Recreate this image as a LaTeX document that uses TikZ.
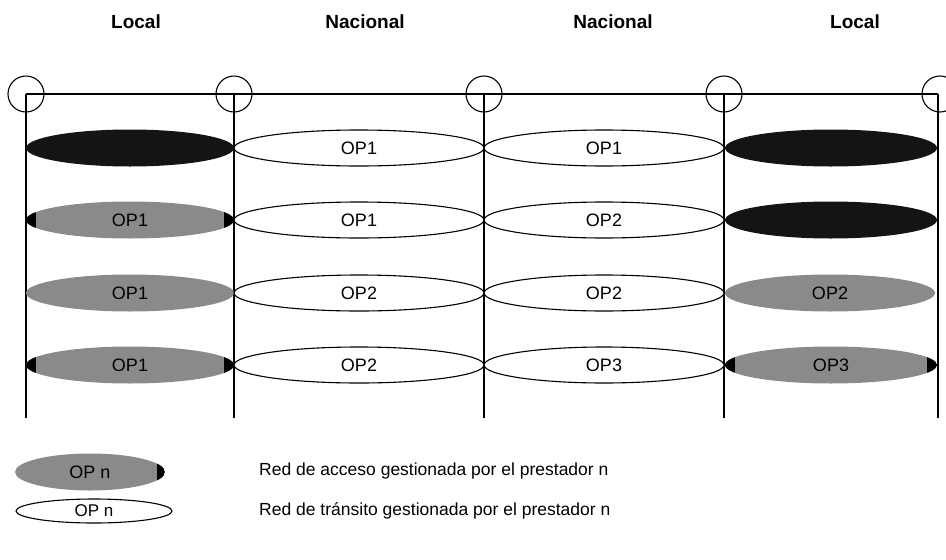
\documentclass[tikz,border=0pt]{standalone}
\usepackage{fontspec}
\setmainfont{Liberation Sans}
\usetikzlibrary{shapes.geometric}
\definecolor{accgray}{RGB}{138,138,138}
\tikzstyle{linea} = [line width=1.1pt]
\tikzstyle{nodo} = [circle, draw, line width=1.1pt, minimum size=36pt, inner sep=0pt]
\tikzstyle{nivel} = [font=\bfseries\fontsize{19}{21}\selectfont]
\tikzstyle{acceso} = [ellipse, fill=accgray, minimum height=37pt, inner sep=0pt, font=\fontsize{18}{20}\selectfont]
\tikzstyle{negra} = [ellipse, fill=black!92, minimum height=37pt, inner sep=0pt]
\tikzstyle{transito} = [ellipse, draw, fill=white, line width=1.1pt, minimum height=36pt, inner sep=0pt, font=\fontsize{18}{20}\selectfont]
\tikzstyle{puntas} = [acceso, path picture={\fill[black] (path picture bounding box.south west) rectangle ([xshift=10pt]path picture bounding box.north west); \fill[black] ([xshift=-10pt]path picture bounding box.south east) rectangle (path picture bounding box.north east);}]
\tikzstyle{puntader} = [acceso, path picture={\fill[black] ([xshift=-8pt]path picture bounding box.south east) rectangle (path picture bounding box.north east);}]
\tikzstyle{leyenda} = [anchor=west, inner sep=0pt, font=\fontsize{17.5}{20}\selectfont]

\begin{document}
\begin{tikzpicture}[x=1pt, y=-1pt]
    \useasboundingbox (0,0) rectangle (946,560);
    \node[nivel] (t1) at (136,22) {Local};
    \node[nivel] (t2) at (365,22) {Nacional};
    \node[nivel] (t3) at (613,22) {Nacional};
    \node[nivel] (t4) at (855,22) {Local};

    \node[nodo] (c1) at (26,94) {};
    \node[nodo] (c2) at (234,94) {};
    \node[nodo] (c3) at (484,94) {};
    \node[nodo] (c4) at (724,94) {};
    \node[nodo] (c5) at (940,94) {};
    \coordinate (b1) at (26,418);
    \coordinate (b2) at (234,418);
    \coordinate (b3) at (484,418);
    \coordinate (b4) at (724,418);
    \coordinate (b5) at (938,418);
    \coordinate (e5) at (938,94);

    \draw[linea] (c1.center) -- (e5);
    \draw[linea] (c1.center) -- (b1);
    \draw[linea] (c2.center) -- (b2);
    \draw[linea] (c3.center) -- (b3);
    \draw[linea] (c4.center) -- (b4);
    \draw[linea] (e5) -- (b5);

    % fila 1
    \node[negra, minimum width=208pt] (a1) at (130,148) {};
    \node[transito, minimum width=250pt] (n1) at (359,148) {OP1};
    \node[transito, minimum width=240pt] (m1) at (604,148) {OP1};
    \node[negra, minimum width=212pt] (z1) at (831,148) {};
    % fila 2
    \node[puntas, minimum width=208pt] (a2) at (130,220) {OP1};
    \node[transito, minimum width=250pt] (n2) at (359,220) {OP1};
    \node[transito, minimum width=240pt] (m2) at (604,220) {OP2};
    \node[negra, minimum width=212pt] (z2) at (831,220) {};
    % fila 3
    \node[acceso, minimum width=208pt] (a3) at (130,293) {OP1};
    \node[transito, minimum width=250pt] (n3) at (359,293) {OP2};
    \node[transito, minimum width=240pt] (m3) at (604,293) {OP2};
    \node[acceso, minimum width=210pt] (z3) at (830,293) {OP2};
    % fila 4
    \node[puntas, minimum width=208pt] (a4) at (130,365) {OP1};
    \node[transito, minimum width=250pt] (n4) at (359,365) {OP2};
    \node[transito, minimum width=240pt] (m4) at (604,365) {OP3};
    \node[puntas, minimum width=212pt] (z4) at (831,365) {OP3};

    \node[puntader, minimum width=150pt] (la) at (90,472) {OP n};
    \node[transito, minimum width=156pt, minimum height=24pt, font=\fontsize{17}{19}\selectfont] (lt) at (94,511) {OP n};
    \node[leyenda] (ta) at (259,471) {Red de acceso gestionada por el prestador n};
    \node[leyenda] (tt) at (259,511) {Red de tránsito gestionada por el prestador n};
\end{tikzpicture}
\end{document}
